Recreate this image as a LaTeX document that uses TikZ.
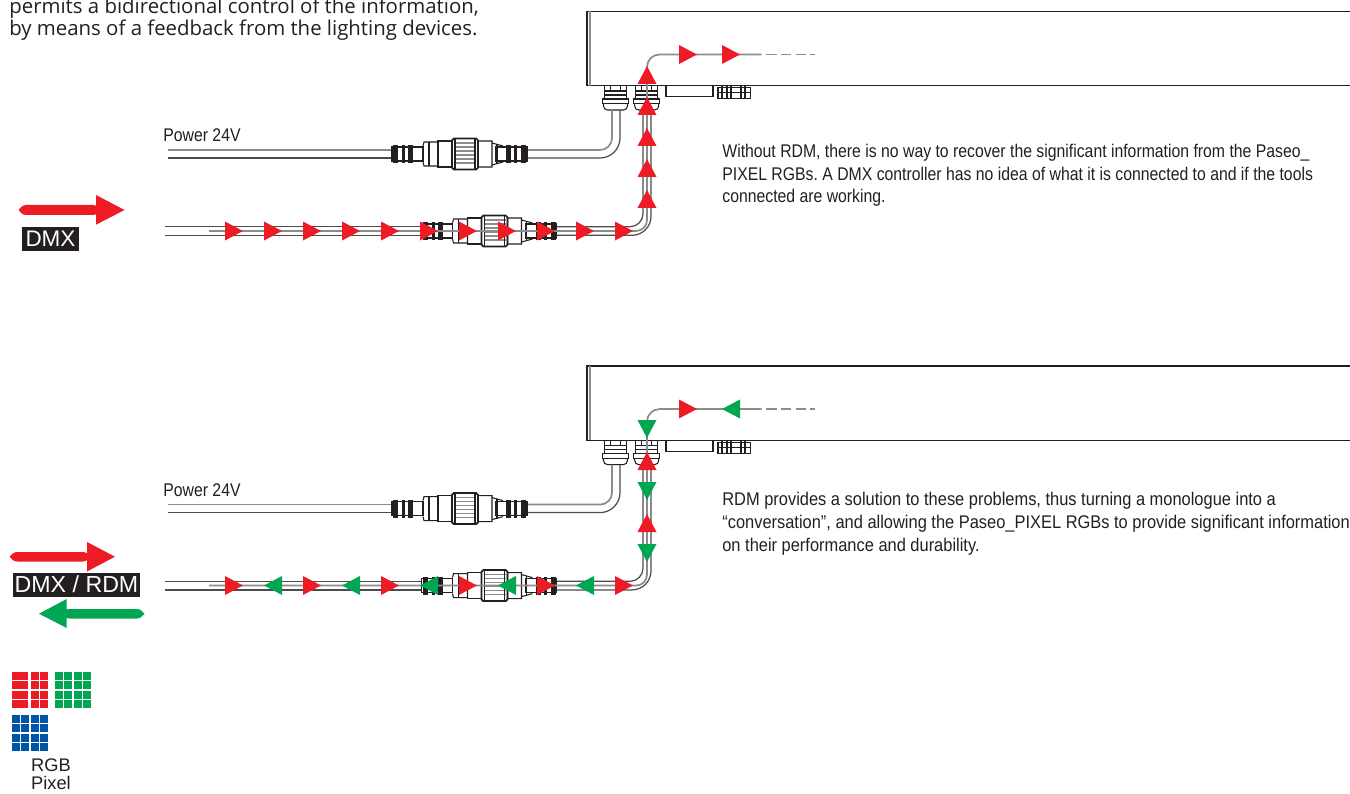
\documentclass[tikz,border=0pt]{standalone}
\usepackage{fontspec}
\setmainfont{Liberation Sans}
\newfontfamily\narrowfont[FakeStretch=0.86]{Liberation Sans}
\newfontfamily\widerfont[FakeStretch=0.895]{Liberation Sans}
\newfontfamily\notefont{Open Sans}
\frenchspacing
\usetikzlibrary{calc,positioning}
\definecolor{flowred}{HTML}{ED1C24}
\definecolor{flowgreen}{HTML}{00A651}
\definecolor{flowblue}{HTML}{0054A6}
\definecolor{inkblack}{HTML}{231F20}
\definecolor{wiregray}{gray}{0.55}
\definecolor{sheathgray}{gray}{0.3}
\tikzset{
  outline/.style={draw=inkblack,line width=0.6pt},
  wire/.style={draw=wiregray,line width=1pt},
  sheath/.style={draw=sheathgray,line width=0.7pt},
  note/.style={anchor=base west,inner sep=0pt,font=\narrowfont\fontsize{10.45pt}{13pt}\selectfont,text=inkblack},
  rdmnote/.style={note,font=\widerfont\fontsize{10.45pt}{13pt}\selectfont},
  intro/.style={anchor=base west,inner sep=0pt,text=inkblack,font=\notefont\fontsize{11.6pt}{12pt}\selectfont},
  pics/head/.style={code={\fill (0,-9.5) -- (18,0) -- (0,9.5) -- cycle;}},
  pics/ribs/.style={code={
    \draw[outline] (0,-7) rectangle (31,7);
    \foreach \a/\b in {1/6,10/13,16/21} \fill[inkblack] (\a,-9) rectangle (\b,9);
  }},
  pics/plug/.style={code={
    \pic at (0,0) {ribs};
    \pic[xscale=-1] at (135,0) {ribs};
    \draw[outline] (31,-8) -- (32,-12) -- (46,-12) -- (46,12) -- (32,12) -- (31,8);
    \draw[outline] (37,-12) -- (37,12) (46,-13) rectangle (60,13);
    \draw[outline] (86,-13) rectangle (100,13) (100,-11) -- (111,-8) (100,11) -- (111,8);
    \draw[outline] (105,-10) -- (105,10);
    \foreach \y in {-11,-7,...,11} \draw[wire] (62,\y) -- (84,\y);
    \draw[inkblack,line width=1pt,rounded corners=1] (60,-15.5) rectangle (86,15.5);
    \draw[outline] (63,-15.5) -- (63,15.5);
    \draw[outline] (83,-15.5) -- (83,15.5);
  }},
  pics/gland/.style={code={
    \draw[outline] (-11,0) -- (-11,5) -- (11,5) -- (11,0) (-5,0) -- (-5,5) (5,0) -- (5,5);
    \draw[outline] (-11,5) -- (-11,9) (11,5) -- (11,9) (-11,9) -- (11,9);
    \draw[outline] (-11,9) -- (-11,13) (11,9) -- (11,13);
    \draw[outline] (-13,13) rectangle (13,17.5);
    \draw[outline] (-12,17.5) -- (-12,20) arc (180:90:4) -- (8,24) arc (90:0:4) -- (12,17.5);
  }},
  pics/unit/.style={code={
    \draw[inkblack,line width=0.7pt] (1350,11.5) -- (587,11.5) -- (587,85.7) -- (1350,85.7);
    \draw[wiregray,line width=0.7pt] (590,11.5) -- (590,85.7);
    \draw[outline] (666,85.7) -- (666,96.5) -- (713,96.5) -- (713,85.7);
    \draw[outline] (718,87.5) rectangle (750.5,98.5) (718,92.5) -- (750.5,92.5);
    \foreach \x in {722,727,731,741,745} \draw[outline] (\x,86.5) -- (\x,98.5);
    \pic at (615.5,86) {gland};
    \pic at (646.7,86) {gland};
    % power cable
    \draw[wire] (168,150) -- (392,150);
    \draw[sheath] (168,158) -- (392,158);
    \draw[wire] (527,150) -- (600,150) arc (90:0:12) -- (612,110);
    \draw[sheath] (527,158) -- (600,158) arc (90:0:20) -- (620,110);
    \pic at (392,154) {plug};
    % data cable
    \draw[sheath] (165,226.7) -- (421,226.7) (165,235.3) -- (421,235.3);
    \draw[sheath] (556,226.7) -- (630,226.7) arc (90:0:13) -- (643,112);
    \draw[sheath] (556,235.3) -- (632,235.3) arc (90:0:19) -- (651,112);
    \pic at (421.5,231) {plug};
    \draw[wire] (209,231) -- (636,231) arc (90:0:11) -- (647,67) arc (180:270:12.5) -- (761.5,54.5);
    \draw[wire,dash pattern=on 6pt off 2.4pt] (766,54.5) -- (815,54.5);
  }}
}
\begin{document}
\begin{tikzpicture}[x=0.02cm,y=-0.02cm]
  \useasboundingbox (0,0) rectangle (1350,794);
  \clip (0,0) rectangle (1350,794);
  \pic at (0,0) {unit};
  \pic at (0,354.6) {unit};
  % without rdm
  \pic[color=flowred] at (679,54.5) {head};
  \pic[color=flowred] at (722,54.5) {head};
  \foreach \y in {84,115,146,177,208} \pic[color=flowred,rotate=90] at (647,\y) {head};
  \foreach \x in {225,264,...,615} \pic[color=flowred] at (\x,231) {head};
  % with rdm
  \pic[color=flowred] at (679,409) {head};
  \pic[color=flowgreen,xscale=-1] at (740,409) {head};
  \foreach \y in {470,532} \pic[color=flowred,rotate=90] at (647,\y) {head};
  \foreach \y in {420,482,544} \pic[color=flowgreen,rotate=-90] at (647,\y) {head};
  \foreach \x in {225,303,...,615} \pic[color=flowred] at (\x,585.5) {head};
  \foreach \x in {282,360,...,600} \pic[color=flowgreen,xscale=-1] at (\x,585.5) {head};
  % texts
  \node[intro] (introa) at (9,13.7) {permits a bidirectional control of the information,};
  \node[intro] (introb) at (9,35.7) {by means of a feedback from the lighting devices.};
  \node[note] (powera) at (163,142) {Power 24V};
  \node[note] (powerb) at (163,496.6) {Power 24V};
  \node[note] (norma) at (722,157) {Without RDM, there is no way to recover the significant information from the Paseo\_};
  \node[note] (normb) at (722,180) {PIXEL RGBs. A DMX controller has no idea of what it is connected to and if the tools};
  \node[note] (normc) at (722,202.5) {connected are working.};
  \node[rdmnote] (rdma) at (722,505) {RDM provides a solution to these problems, thus turning a monologue into a};
  \node[rdmnote] (rdmb) at (722,528) {“conversation”, and allowing the Paseo\_PIXEL RGBs to provide significant information};
  \node[rdmnote] (rdmc) at (722,551) {on their performance and durability.};
  % legend
  \fill[flowred,rounded corners=4] (19,205) rectangle (100,215);
  \fill[flowred] (96,195) -- (124.5,210) -- (96,224.7) -- cycle;
  \node[fill=inkblack,text=white,inner sep=0pt,minimum width=57*0.02cm,minimum height=24*0.02cm,font=\fontsize{12.8pt}{13pt}\selectfont] (dmx) at (50.5,239) {DMX};
  \fill[flowred,rounded corners=4] (10,552) rectangle (90,561.5);
  \fill[flowred] (87,542) -- (115,556.7) -- (87,571.5) -- cycle;
  \node[fill=inkblack,text=white,inner sep=0pt,minimum width=127*0.02cm,minimum height=24*0.02cm,font=\fontsize{13.2pt}{14pt}\selectfont] (dmxrdm) at (76.5,584.7) {DMX / RDM};
  \fill[flowgreen,rounded corners=4] (62,609) rectangle (144,618.5);
  \fill[flowgreen] (66.7,599) -- (39,613.7) -- (66.7,628) -- cycle;
  % pixel squares
  \foreach \i in {0,1,2,3} \foreach \j in {0,1,2,3} {
    \fill[flowgreen] ({55+9.3*\i},{672+9.3*\j}) rectangle ++(8,8);
    \fill[flowblue] ({12+9.3*\i},{715+9.3*\j}) rectangle ++(8,8);
  }
  \foreach \j in {0,1,2,3} {
    \fill[flowred] (12,{672+9.3*\j}) rectangle ++(16,8);
    \fill[flowred] (31,{672+9.3*\j}) rectangle ++(8,8);
    \fill[flowred] (40,{672+9.3*\j}) rectangle ++(8,8);
  }
  \node[inner sep=0pt,text=inkblack,font=\fontsize{10.4pt}{11pt}\selectfont] (rgb) at (51,765) {RGB};
  \node[inner sep=0pt,text=inkblack,font=\fontsize{10.4pt}{11pt}\selectfont] (pixel) at (51,783) {Pixel};
\end{tikzpicture}
\end{document}
